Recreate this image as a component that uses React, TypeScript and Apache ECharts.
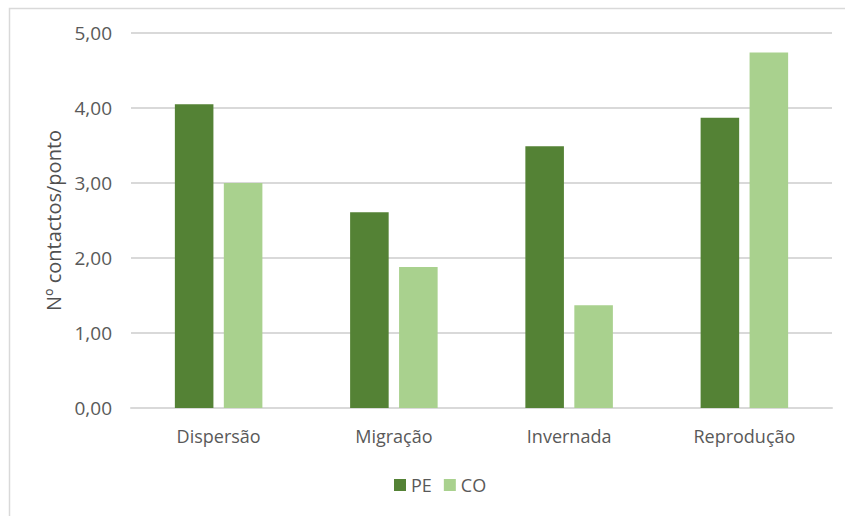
import React, { useEffect, useRef } from "react";
import * as echarts from "echarts";

const categories = ["Dispersão", "Migração", "Invernada", "Reprodução"];
const peValues = [4.05, 2.61, 3.49, 3.87];
const coValues = [3.0, 1.88, 1.37, 4.74];
const seriesNames = ["PE", "CO"];
const yAxisTitle = "Nº contactos/ponto";

const FONT = "'Open Sans', 'Noto Sans', sans-serif";
const TEXT = "#595959";

export default function App() {
  const ref = useRef<HTMLDivElement>(null);

  useEffect(() => {
    if (!ref.current) return;
    const chart = echarts.init(ref.current, undefined, { renderer: "svg" });
    chart.setOption({
      animation: false,
      backgroundColor: "#ffffff",
      textStyle: { fontFamily: FONT },
      graphic: [
        {
          type: "rect",
          shape: { x: 9.5, y: 8.5, width: 850, height: 520 },
          style: { fill: "none", stroke: "#d9d9d9", lineWidth: 1.5 },
          silent: true,
        },
      ],
      grid: { left: 131, right: 13, top: 33, bottom: 108 },
      legend: {
        data: seriesNames,
        left: 389,
        top: 471,
        itemWidth: 12,
        itemHeight: 12,
        itemGap: 12,
        icon: "rect",
        textStyle: { color: TEXT, fontSize: 18, fontFamily: FONT },
      },
      xAxis: {
        type: "category",
        data: categories,
        axisLine: { lineStyle: { color: "#d9d9d9", width: 2 } },
        axisTick: { show: false },
        axisLabel: { color: TEXT, fontSize: 18, margin: 19, fontFamily: FONT },
      },
      yAxis: {
        type: "value",
        min: 0,
        max: 5,
        interval: 1,
        name: yAxisTitle,
        nameLocation: "middle",
        nameRotate: 90,
        nameGap: 68,
        nameTextStyle: { color: "#505050", fontSize: 20, fontFamily: FONT },
        axisLine: { show: false },
        axisTick: { show: false },
        splitLine: { lineStyle: { color: "#d9d9d9", width: 2 } },
        axisLabel: {
          color: TEXT,
          fontSize: 19,
          margin: 19,
          fontFamily: FONT,
          formatter: (v: number) => v.toFixed(2).replace(".", ","),
        },
      },
      series: [
        {
          name: seriesNames[0],
          type: "bar",
          data: peValues,
          barWidth: "22%",
          barGap: "27%",
          itemStyle: { color: "#548235" },
        },
        {
          name: seriesNames[1],
          type: "bar",
          data: coValues,
          barWidth: "22%",
          barGap: "27%",
          itemStyle: { color: "#A9D18E" },
        },
      ],
    });
    return () => chart.dispose();
  }, []);

  return (
    <div
      ref={ref}
      style={{ position: "fixed", left: 0, top: 0, width: 845, height: 516 }}
    />
  );
}
